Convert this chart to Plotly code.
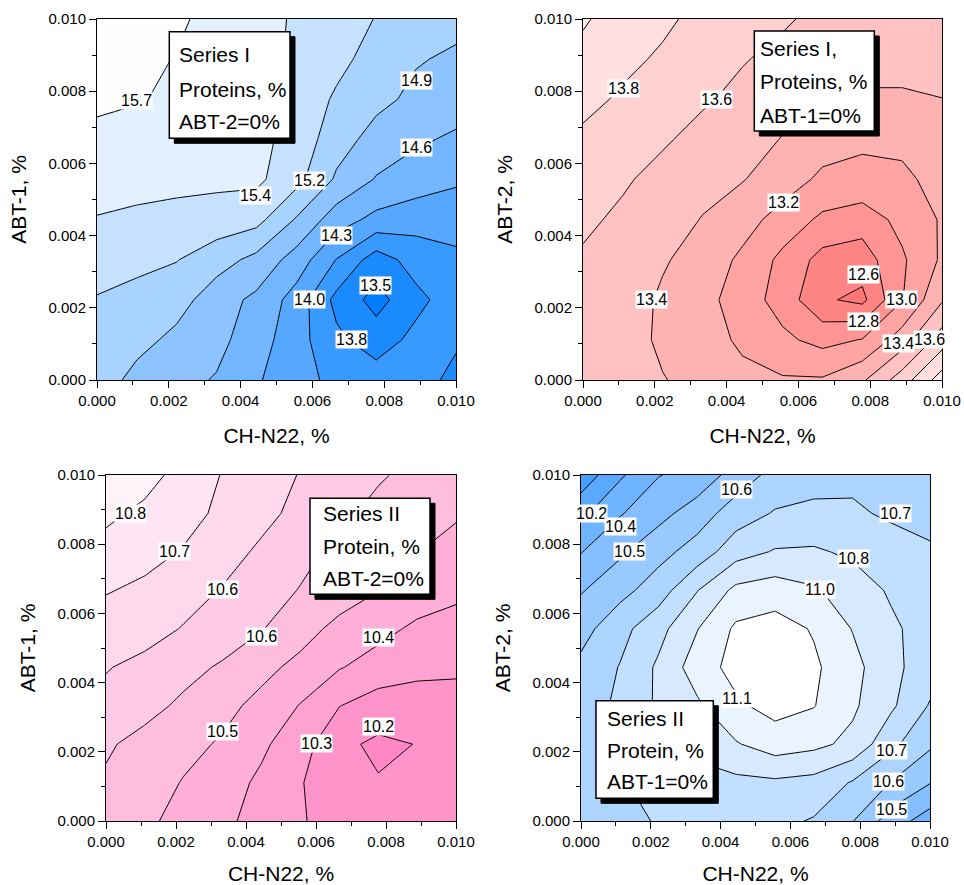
import plotly.graph_objects as go

# ---------------- data ----------------
X_GRID = [0.0, 0.00111, 0.00222, 0.00333, 0.00444, 0.00556, 0.00667, 0.00778, 0.00889, 0.01]
Y_GRID = [0.0, 0.00111, 0.00222, 0.00333, 0.00444, 0.00556, 0.00667, 0.00778, 0.00889, 0.01]

# Series I, ABT-2 = 0 %  (x: CH-N22, y: ABT-1)
Z_SER1_ABT2_0 = [
    [15.05, 14.78, 14.68, 14.58, 14.35, 14.15, 13.96, 13.90, 13.82, 13.72],
    [15.10, 14.98, 14.80, 14.68, 14.45, 14.15, 13.82, 13.62, 13.84, 13.78],
    [15.14, 15.05, 15.00, 14.72, 14.54, 14.20, 13.68, 13.38, 13.68, 13.91],
    [15.30, 15.25, 15.17, 15.00, 14.80, 14.48, 14.03, 13.62, 13.88, 14.00],
    [15.43, 15.40, 15.37, 15.32, 15.25, 14.85, 14.45, 14.24, 14.15, 14.12],
    [15.52, 15.51, 15.50, 15.50, 15.50, 15.25, 14.84, 14.58, 14.47, 14.37],
    [15.62, 15.60, 15.58, 15.55, 15.52, 15.34, 15.00, 14.78, 14.64, 14.56],
    [15.80, 15.74, 15.67, 15.60, 15.50, 15.35, 15.12, 14.95, 14.82, 14.72],
    [15.85, 15.78, 15.71, 15.62, 15.52, 15.40, 15.24, 15.05, 14.90, 14.84],
    [15.90, 15.84, 15.76, 15.64, 15.50, 15.42, 15.28, 15.15, 15.02, 14.95],
]

# Series I, ABT-1 = 0 %  (x: CH-N22, y: ABT-2)
Z_SER1_ABT1_0 = [
    [13.57, 13.52, 13.41, 13.33, 13.26, 13.22, 13.22, 13.37, 13.70, 14.10],
    [13.56, 13.50, 13.36, 13.30, 13.16, 13.04, 12.94, 13.01, 13.30, 13.70],
    [13.56, 13.50, 13.37, 13.27, 13.10, 12.92, 12.63, 12.55, 12.99, 13.38],
    [13.58, 13.52, 13.42, 13.32, 13.16, 12.95, 12.73, 12.70, 12.97, 13.23],
    [13.63, 13.57, 13.50, 13.39, 13.28, 13.12, 12.96, 12.89, 13.06, 13.22],
    [13.70, 13.62, 13.55, 13.47, 13.41, 13.30, 13.16, 13.15, 13.14, 13.30],
    [13.76, 13.68, 13.62, 13.55, 13.50, 13.39, 13.29, 13.23, 13.27, 13.36],
    [13.86, 13.77, 13.70, 13.62, 13.56, 13.48, 13.46, 13.38, 13.38, 13.398],
    [13.95, 13.85, 13.77, 13.68, 13.61, 13.56, 13.52, 13.45, 13.45, 13.46],
    [14.02, 13.92, 13.84, 13.74, 13.66, 13.62, 13.56, 13.50, 13.50, 13.50],
]

# Series II, ABT-2 = 0 %  (x: CH-N22, y: ABT-1)
Z_SER2_ABT2_0 = [
    [10.52, 10.48, 10.44, 10.39, 10.35, 10.29, 10.26, 10.23, 10.22, 10.22],
    [10.545, 10.505, 10.46, 10.41, 10.36, 10.29, 10.23, 10.20, 10.21, 10.22],
    [10.565, 10.53, 10.49, 10.455, 10.39, 10.325, 10.213, 10.18, 10.197, 10.215],
    [10.62, 10.58, 10.54, 10.49, 10.44, 10.37, 10.287, 10.24, 10.24, 10.25],
    [10.65, 10.62, 10.58, 10.545, 10.49, 10.44, 10.38, 10.34, 10.31, 10.30],
    [10.70, 10.68, 10.64, 10.60, 10.56, 10.50, 10.44, 10.40, 10.36, 10.35],
    [10.74, 10.72, 10.68, 10.64, 10.60, 10.55, 10.51, 10.467, 10.42, 10.39],
    [10.80, 10.76, 10.73, 10.68, 10.63, 10.585, 10.53, 10.50, 10.467, 10.44],
    [10.84, 10.81, 10.76, 10.72, 10.67, 10.62, 10.575, 10.53, 10.50, 10.473],
    [10.88, 10.85, 10.80, 10.73, 10.69, 10.64, 10.59, 10.565, 10.53, 10.50],
]

# Series II, ABT-1 = 0 %  (x: CH-N22, y: ABT-2)
Z_SER2_ABT1_0 = [
    [10.62, 10.68, 10.73, 10.76, 10.77, 10.75, 10.71, 10.605, 10.42, 10.30],
    [10.64, 10.71, 10.76, 10.79, 10.81, 10.82, 10.80, 10.71, 10.595, 10.485],
    [10.67, 10.73, 10.80, 10.88, 10.95, 11.02, 10.99, 10.93, 10.75, 10.62],
    [10.68, 10.735, 10.86, 10.94, 11.06, 11.12, 11.085, 10.98, 10.86, 10.71],
    [10.63, 10.725, 10.86, 11.02, 11.12, 11.16, 11.10, 11.00, 10.87, 10.78],
    [10.555, 10.68, 10.80, 10.955, 11.10, 11.13, 11.07, 10.955, 10.86, 10.79],
    [10.47, 10.56, 10.66, 10.835, 10.99, 11.02, 10.975, 10.90, 10.825, 10.78],
    [10.355, 10.46, 10.56, 10.65, 10.79, 10.85, 10.855, 10.82, 10.78, 10.74],
    [10.21, 10.35, 10.44, 10.54, 10.66, 10.73, 10.75, 10.74, 10.70, 10.67],
    [10.04, 10.22, 10.355, 10.40, 10.53, 10.64, 10.67, 10.69, 10.68, 10.66],
]

TICK_VALUES = [0.0, 0.002, 0.004, 0.006, 0.008, 0.010]
TICK_TEXT = ["0.000", "0.002", "0.004", "0.006", "0.008", "0.010"]
MINOR_TICK_VALUES = [0.001, 0.003, 0.005, 0.007, 0.009]

# contour label texts (position, in axis units)
LABELS_1 = [("15.7", 0.00111, 0.00774), ("14.9", 0.00889, 0.00829), ("14.6", 0.00889, 0.00645),
            ("15.2", 0.00591, 0.00554), ("15.4", 0.00442, 0.00512), ("14.3", 0.00668, 0.00400),
            ("14.0", 0.00591, 0.00222), ("13.5", 0.00776, 0.00263), ("13.8", 0.00708, 0.00113)]
LABELS_2 = [("13.8", 0.00112, 0.00808), ("13.6", 0.00372, 0.00778), ("13.2", 0.00558, 0.00491),
            ("13.4", 0.00191, 0.00222), ("12.6", 0.00781, 0.00291), ("13.0", 0.00886, 0.00224),
            ("12.8", 0.00781, 0.00162), ("13.4", 0.00880, 0.00102), ("13.6", 0.00965, 0.00111)]
LABELS_3 = [("10.8", 0.00069, 0.00889), ("10.7", 0.00197, 0.00779), ("10.6", 0.00333, 0.00668),
            ("10.6", 0.00445, 0.00534), ("10.4", 0.00778, 0.00529), ("10.5", 0.00333, 0.00260),
            ("10.3", 0.00602, 0.00223), ("10.2", 0.00778, 0.00272)]
LABELS_4 = [("10.6", 0.00446, 0.00957), ("10.7", 0.00900, 0.00889), ("10.2", 0.00031, 0.00889),
            ("10.4", 0.00112, 0.00851), ("10.5", 0.00140, 0.00778), ("10.8", 0.00780, 0.00759),
            ("11.0", 0.00685, 0.00668), ("11.1", 0.00446, 0.00355), ("10.7", 0.00890, 0.00205),
            ("10.6", 0.00880, 0.00114), ("10.5", 0.00890, 0.00032)]

BOX_TEXT_1 = ["Series I", "Proteins, %", "ABT-2=0%"]
BOX_TEXT_2 = ["Series I,", "Proteins, %", "ABT-1=0%"]
BOX_TEXT_3 = ["Series II", "Protein, %", "ABT-2=0%"]
BOX_TEXT_4 = ["Series II", "Protein, %", "ABT-1=0%"]

# ---------------- figure ----------------
W, H = 964, 885
FONT = "Liberation Sans, Arial, Helvetica, sans-serif"

def px(x):
    return x / W

def py(y):
    return 1 - y / H

panels = [
    dict(z=Z_SER1_ABT2_0, start=13.48, end=15.72, size=0.28,
         cs=[[0, "rgb(0,124,255)"], [1, "rgb(254,254,255)"]],
         dom=(97, 456, 19, 380), ytitle="ABT-1, %", labels=LABELS_1,
         box=(169.3, 290, 31.7, 138.3), text=BOX_TEXT_1, tx=176.7, ty=(55, 89, 122)),
    dict(z=Z_SER1_ABT1_0, start=12.6, end=14.0, size=0.2,
         cs=[[0, "rgb(255,118,118)"], [1, "rgb(255,238,238)"]],
         dom=(583, 942, 19, 380), ytitle="ABT-2, %", labels=LABELS_2,
         box=(754.3, 874.3, 31, 131), text=BOX_TEXT_2, tx=758.3, ty=(48, 82, 115)),
    dict(z=Z_SER2_ABT2_0, start=10.195, end=10.825, size=0.09,
         cs=[[0, "rgb(255,135,196)"], [1, "rgb(255,243,249)"]],
         dom=(106, 456, 475, 821), ytitle="ABT-1, %", labels=LABELS_3,
         box=(310, 430, 498.3, 594.3), text=BOX_TEXT_3, tx=321, ty=(513.3, 546.7, 578.3)),
    dict(z=Z_SER2_ABT1_0, start=10.12, end=11.08, size=0.12,
         cs=[[0, "rgb(70,158,255)"], [1, "rgb(255,255,255)"]],
         dom=(581, 930, 475, 821), ytitle="ABT-2, %", labels=LABELS_4,
         box=(596, 713.3, 700.7, 798.3), text=BOX_TEXT_4, tx=605, ty=(718.3, 750, 781.7)),
]

fig = go.Figure()
layout = dict(width=W, height=H, margin=dict(l=0, r=0, t=0, b=0, autoexpand=False),
              paper_bgcolor="white", plot_bgcolor="white",
              font=dict(family=FONT, color="black"), showlegend=False)
annotations = []
shapes = []

for k, p in enumerate(panels, start=1):
    sx = "" if k == 1 else str(k)
    fig.add_trace(go.Contour(
        x=X_GRID, y=Y_GRID, z=p["z"],
        xaxis="x" + sx, yaxis="y" + sx,
        autocontour=False,
        contours=dict(start=p["start"], end=p["end"], size=p["size"],
                      coloring="fill", showlabels=False),
        line=dict(color="black", width=1, smoothing=0),
        colorscale=p["cs"], showscale=False, hoverinfo="skip",
    ))
    x0, x1, y0, y1 = p["dom"]
    axis_common = dict(range=[0, 0.01], tickmode="array", tickvals=TICK_VALUES, ticktext=TICK_TEXT,
                       ticks="outside", ticklen=7, tickwidth=1, tickcolor="black",
                       minor=dict(tickmode="array", tickvals=MINOR_TICK_VALUES,
                                  ticks="outside", ticklen=4, tickwidth=1, tickcolor="black"),
                       showline=True, linecolor="black", linewidth=1, mirror=True,
                       showgrid=False, zeroline=False, automargin=False,
                       tickfont=dict(family=FONT, size=15, color="black"))
    layout["xaxis" + sx] = dict(axis_common, domain=[px(x0), px(x1)], anchor="y" + sx,
                                title=dict(text="CH-N22, %", font=dict(family=FONT, size=21), standoff=20))
    layout["yaxis" + sx] = dict(axis_common, domain=[py(y1), py(y0)], anchor="x" + sx,
                                title=dict(text=p["ytitle"], font=dict(family=FONT, size=21), standoff=16))
    for txt, lx, ly in p["labels"]:
        annotations.append(dict(x=lx, y=ly, xref="x" + sx, yref="y" + sx, text=txt, showarrow=False,
                                font=dict(family=FONT, size=16, color="black"),
                                bgcolor="white", borderpad=0, xanchor="center", yanchor="middle"))
    bx0, bx1, by0, by1 = p["box"]
    shapes.append(dict(type="rect", xref="paper", yref="paper", layer="above",
                       x0=px(bx0 + 5), x1=px(bx1 + 5), y0=py(by1 + 5), y1=py(by0 + 5),
                       fillcolor="black", line=dict(color="black", width=1)))
    shapes.append(dict(type="rect", xref="paper", yref="paper", layer="above",
                       x0=px(bx0), x1=px(bx1), y0=py(by1), y1=py(by0),
                       fillcolor="white", line=dict(color="black", width=1.5)))
    for line_txt, tyy in zip(p["text"], p["ty"]):
        annotations.append(dict(x=px(p["tx"]), y=py(tyy), xref="paper", yref="paper", text=line_txt,
                                showarrow=False, xanchor="left", yanchor="middle",
                                font=dict(family=FONT, size=21, color="black")))

layout["annotations"] = annotations
layout["shapes"] = shapes
fig.update_layout(**layout)
fig.write_html("out.html", config={"displayModeBar": False},
               post_script="document.body.style.margin='0px';document.body.style.overflow='hidden';")
